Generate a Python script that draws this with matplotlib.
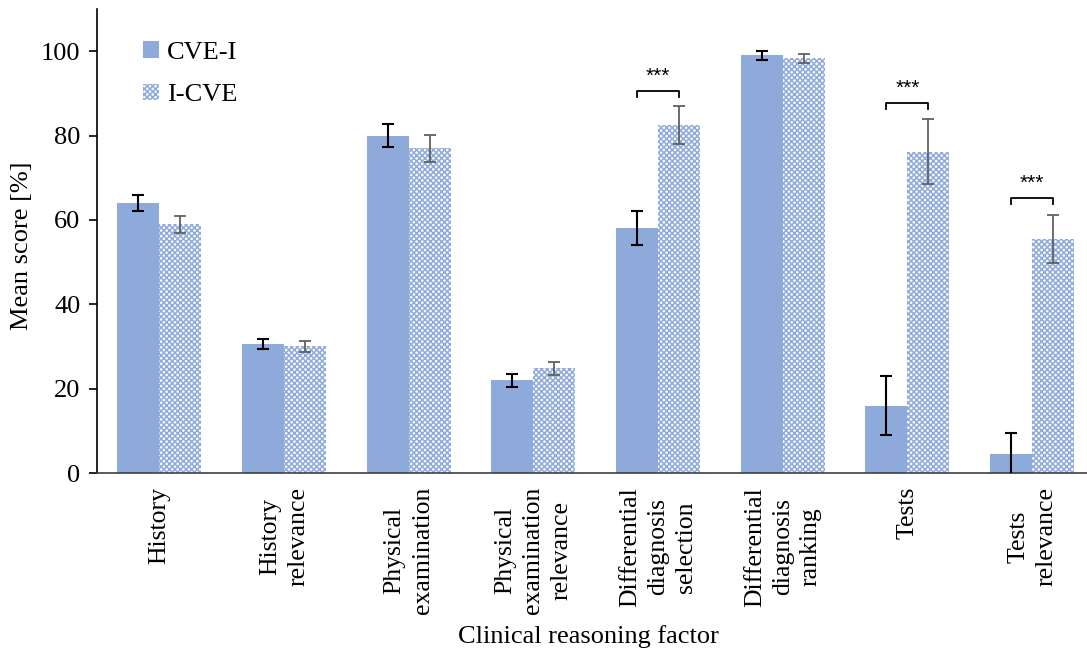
import matplotlib
matplotlib.use("Agg")
import matplotlib.pyplot as plt
import numpy as np

categories = ["History", "History\nrelevance", "Physical\nexamination",
              "Physical\nexamination\nrelevance", "Differential\ndiagnosis\nselection",
              "Differential\ndiagnosis\nranking", "Tests", "Tests\nrelevance"]
cve_i = [64.0, 30.5, 80.0, 22.0, 58.0, 99.0, 16.0, 4.5]
cve_i_err = [2.0, 1.2, 2.8, 1.5, 4.0, 1.0, 7.0, 5.0]
i_cve = [59.0, 30.0, 77.0, 24.8, 82.5, 98.3, 76.2, 55.5]
i_cve_err = [2.0, 1.3, 3.2, 1.5, 4.5, 1.0, 7.8, 5.7]
sig_idx = [4, 6, 7]
sig_height = [90.5, 87.7, 65.2]
sig_text = ["***", "***", "***"]
yticks = [0, 20, 40, 60, 80, 100]

plt.rcParams['font.family'] = ['Liberation Serif', 'DejaVu Serif']
plt.rcParams['hatch.linewidth'] = 1.1

blue = '#8eaadb'
fig = plt.figure(figsize=(10.87, 6.54), dpi=100)
ax = fig.add_axes([97/1087, 1 - 473/654, 1 - 97/1087, (473 - 9)/654])

x = np.arange(len(categories))
w = 0.337
ax.bar(x - w/2, cve_i, w, color=blue, linewidth=0, label='CVE-I', zorder=2)
ax.bar(x + w/2, i_cve, w, facecolor='white', edgecolor=blue, hatch='xxxxxx',
       linewidth=0, label='I-CVE', zorder=2)
ax.errorbar(x - w/2, cve_i, yerr=cve_i_err, fmt='none', ecolor='black',
            elinewidth=1.5, capsize=4.5, capthick=1.5, zorder=3)
ax.errorbar(x + w/2, i_cve, yerr=i_cve_err, fmt='none', ecolor='#606060',
            elinewidth=1.3, capsize=4.5, capthick=1.3, zorder=3)

for i, h, t in zip(sig_idx, sig_height, sig_text):
    x0, x1 = i - w/2, i + w/2
    ax.plot([x0, x0, x1, x1], [h - 1.4, h, h, h - 1.4], color='black', lw=1.3, zorder=3)
    ax.text(i, h + 1.3, t, ha='center', va='bottom', fontsize=15,
            family=['Liberation Sans', 'DejaVu Sans'])

ax.set_xlim(-0.5, 7.44)
ax.set_ylim(0, 110)
ax.set_yticks(yticks)
ax.set_xticks(x)
ax.set_xticklabels(categories, rotation=90, ha='center', va='top',
                   multialignment='center', fontsize=18.5, linespacing=1.35)
ax.tick_params(axis='x', length=0, pad=10)
ax.tick_params(axis='y', length=6, width=1.2, labelsize=19, pad=6, direction='out')
for s in ['top', 'right']:
    ax.spines[s].set_visible(False)
ax.spines['left'].set_linewidth(1.2)
ax.spines['bottom'].set_linewidth(1.2)
ax.spines['bottom'].set_color('#404040')

ax.set_ylabel('Mean score [%]', fontsize=19, va='center')
ax.yaxis.set_label_coords(-(97 - 22) / 990, 0.49)
ax.set_xlabel('Clinical reasoning factor', fontsize=19, va='center')
ax.xaxis.set_label_coords((588 - 97) / 990, -(637 - 473) / 464)

leg = ax.legend(loc='upper left', bbox_to_anchor=(0.041, 0.942), frameon=False,
                fontsize=19, handlelength=0.6, handleheight=0.6,
                handletextpad=0.3, labelspacing=0.75, borderaxespad=0.0,
                borderpad=0.2)

fig.savefig('out.png', dpi=100)
